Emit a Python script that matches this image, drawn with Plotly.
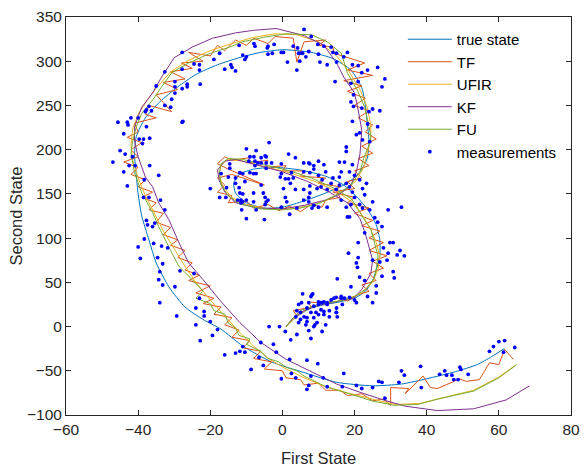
import plotly.graph_objects as go

# ---------------- data ----------------
true_x = [2, 5, 8, 12, 16, 20, 23, 25, 26, 27, 27, 26, 24, 21, 17, 12, 5, -2, -8, -12, -13.5, -13, -10, -5, 0, 6, 12, 17, 21,
          23.5, 24, 23.5, 23, 22, 19, 14, 8, 0, -6, -12, -18, -24, -29, -34, -38, -40.5, -41, -40.5, -40, -39, -37, -35,
          -31.5, -27, -22, -17, -11, -3, 6, 15, 25, 33, 40, 48, 54, 58, 61.5]
true_y = [5, 14, 21, 25, 28, 32, 40, 52, 64, 80, 98, 115, 130, 145, 160, 170, 177, 180, 178, 172, 162, 151, 140, 134, 135,
          142, 151, 160, 172, 190, 210, 230, 250, 270, 290, 303, 310, 313, 310, 304, 296, 285, 271, 254, 236, 215, 195, 170,
          150, 125, 98, 72, 45, 22, 8, -3, -22, -40, -52, -63, -67, -65, -59, -51, -43, -34, -25]

tf_x = [1, 4, 3, 8, 7, 12, 15, 18, 21, 24, 22, 26, 24, 28, 25, 29, 24, 28, 24, 27, 22, 25, 20, 24, 18, 20, 14, 16, 10, 12,
        5, 6, 0, 1, -5, -4, -10, -9, -14, -16, -18, -15, -5, -14, -18, -16, -18, -14, -15, -10, -8, -4, -1, 2, 5, 8, 11,
        12, 16, 15, 20, 18, 22, 20, 24, 21, 25, 22, 26, 23, 25, 21, 24, 20, 23, 18, 22, 17, 25, 18, 22.8, 14.3, 14, 10,
        12, 6, 4, 3, -2, -4, -8, -10, -13, -16, -18, -20, -26, -22, -28, -25, -31, -27, -33, -29, -35, -30.7, -37, -38,
        -35, -41, -40, -43, -39, -42, -40, -44, -40, -42, -38, -40, -36, -39, -35, -37, -33, -35, -31, -33, -29, -31, -27,
        -29, -25, -27, -23, -26, -20, -24, -19, -22, -17, -19, -14, -16, -12, -14, -9, -11, -6, -8, -3, -5, 0, 1, 5, 6,
        10, 12, 16, 18, 22, 25, 28, 30, 30, 35, 34, 39, 41, 43, 47, 49, 51, 54.6, 57.4, 60, 61.6, 64]
tf_y = [0, 12, 18, 22, 28, 26, 33, 29, 36, 40, 47, 52, 60, 66, 74, 80, 86, 95, 100, 108, 114, 120, 128, 134, 140, 146, 152,
        158, 162, 168, 170, 176, 176, 182, 180, 188, 185, 191, 188, 192, 184, 178, 160, 172, 168, 160, 152, 148, 140, 142,
        134, 138, 131, 136, 130, 138, 135, 143, 146, 153, 156, 164, 168, 176, 182, 190, 196, 204, 212, 220, 228, 236, 244,
        250, 258, 266, 272, 278, 284, 290, 298, 309, 316, 318, 324, 322, 299, 326, 328, 320, 326, 318, 324, 312, 318, 306,
        310, 300, 298, 292, 288, 280, 276, 268, 262, 243, 250, 240, 236, 230, 220, 214, 208, 200, 192, 186, 180, 172, 166,
        158, 152, 146, 140, 132, 128, 118, 112, 104, 98, 92, 86, 78, 72, 64, 58, 52, 46, 38, 32, 26, 22, 14, 10, 2, -4,
        -12, -16, -24, -28, -36, -40, -48, -50, -58, -60, -66, -64, -72, -72, -78, -76, -84, -82, -89, -69, -70, -76, -56,
        -69, -70, -63, -59, -62, -60, -41, -43, -26, -37]

ufir_x = [1, 4, 8, 13, 18, 22, 25, 26.5, 27, 26, 24.5, 22.5, 19.5, 15, 9, 2, -5, -11, -15, -17, -17.5, -16.5, -14, -10, -4,
          2, 8, 13, 17, 20.5, 22.5, 23.5, 24.5, 24.5, 23.5, 21.5, 18.5, 15, 10, 4, -2, -8, -14, -20, -26, -31, -34.5,
          -37.5, -40, -41.5, -42, -41.5, -40, -38, -35.5, -33, -30, -27, -24, -20, -16, -12, -8, -4, 1, 6, 12, 18, 25,
          31, 38, 45, 53, 60, 64.5]
ufir_y = [0, 12, 22, 27, 31, 38, 50, 65, 80, 95, 110, 124, 140, 153, 164, 174, 181, 187, 189, 183, 172, 158, 146, 138, 133,
          133, 137, 144, 153, 165, 180, 195, 212, 228, 248, 268, 288, 306, 322, 330, 331, 327, 320, 312, 301, 288, 272,
          256, 240, 224, 205, 188, 168, 148, 128, 108, 88, 68, 50, 30, 12, -6, -22, -36, -48, -58, -68, -75, -82, -88,
          -87, -80, -72, -57, -44]

kf_x = [1, 3, 6, 10, 15, 20, 22, 24.5, 25, 24, 23, 21.5, 18, 13, 7, 0, -7, -13, -16, -18, -17.5, -16, -13, -7, 0, 6, 12,
        16, 19, 20.5, 21.5, 22, 21, 20, 17, 15, 11.5, 6, -1.7, -8, -13, -19.4, -25, -30, -33.5, -36, -39, -41, -41, -40,
        -38, -36, -34.3, -31.5, -28.7, -26, -22, -17.4, -11.8, -6, 1, 8.7, 15, 22, 28, 34, 43, 53, 62, 68.5]
kf_y = [0, 10, 18, 24, 28, 33, 42, 60, 75, 90, 105, 122, 140, 152, 164, 175, 183, 189, 187, 177, 165, 152, 140, 134, 133,
        137, 143, 150, 160, 175, 195, 222, 245, 264, 282, 298, 318, 329, 337, 335, 332, 326, 316, 304, 282, 264, 248,
        226, 210, 192, 169, 158, 140, 121, 95, 72, 53, 30, 4.5, -18, -37, -52, -65, -75, -83, -90, -95, -93, -83, -67]

fu_x = [1, 3, 5, 9, 13, 17, 20, 23, 25.5, 26, 26.5, 25.5, 24.5, 22.5, 21, 19, 14, 8, 2, -5, -11, -15, -17, -17.5, -17, -15,
        -12, -6, 0, 5, 10, 15, 19, 21.5, 22.5, 24, 24.5, 24, 22.8, 20.8, 18, 16.3, 12.4, 8, 1, -5.3, -11, -14.6, -20,
        -26, -30.7, -33.5, -36, -39, -40.5, -41.5, -42, -41, -39, -36, -34.3, -31.5, -28.7, -25, -22, -24, -20, -19, -16,
        -15, -13, -12, -9, -10, -6, -4, -1, 1, 4, 6, 9, 12, 17, 24.8, 31, 37.7, 43, 53, 60, 65]
fu_y = [0, 10, 18, 24, 27, 30, 34, 42, 55, 65, 80, 95, 110, 122, 133, 145, 157, 168, 176, 183, 189, 190, 184, 174, 160, 148,
        139, 133, 132, 134, 139, 149, 160, 175, 190, 205, 215, 226, 248, 267, 287, 309, 322, 330, 331, 327, 322, 316, 309,
        298, 287, 271, 256, 241, 226, 210, 196, 174, 151, 129, 113, 90, 68, 53, 40, 32, 26, 18, 14, 4, -2, -10, -14, -20,
        -28, -36, -40, -46, -50, -56, -62, -68, -74, -84, -89, -88, -82, -73, -58, -43]

meas_x = [-27.8, -32.6, -27.8, -24.5, -23, -23, -19, -17.4, -16, -14.3, -14, -13, -12, -11, -10.4, -22.8, -26.4, -26.4,
          -27.8, -29.8, -29.8, -29.8, -30.7, -35, -32.6, -31, -36.3, -37, -37.7, -38, -27.6, -42, -43, -45.6, -40, -37.7,
          6, 8, -7.9, -7.6, -4, -4.2, -2.3, -2.8, -4, -0.3, 0.3, 3, 4.2, 5.3, 4.5, 5.6, 6.5, 7.3, 4.8, 1.4, 4, 9.8, 11.5,
          13.5, 10, 10.4, 12.4, 14, 15, 18, 15, 17, 19.4, 21, 23.6, 22, 26.4, 28.4, 27.6, 14.6, 19, 21, 19.7, 19, 19.7, 22,
          25, 27, 24, 19.4, 26.4, 21.4, 20.5, 23.6, -10,
          -42.8, -44, -39.7, -38.5, -36.8, -38.8, -45, -43.6, -47, -41.6, -42.5, -40.8, -44, -36.8, -34.3, -38.3, -43,
          -38.5, -37, -33.8, -32.6, -37.7, -37.4, -35.4, -36, -38.3, -40, -35.7, -33.5, -31.8, -39.4, -34.6, -33.2, -34,
          -28.4, -34.3, -33.2, -29.8, -23, -34, -29.3, -27.8, -24.5,
          -24, -21.7, -21.7, -20, -24, -22.8, -19.4, -18, -16, -13, -11.8, -10.4, -11, -8.7, -6.5, -6, -5.3, -3.7, -2.5,
          -1.7, -0.8, -0.3, 2, 2.5, 6.8, 7.9, 9.8, 11.3, 6.8, 12.4, 0.8, 2.3, 4, 7.3, 7.9, 11, 6.5, 9,
          5.6, 8.4, 4.5, 5.3, 7.3, 6.8, 8.7, 10, 10.7, 11.5, 12.4, 14.3, 16.3, 15, 13, 10.7, 9.3, 7.9, 4, 5, 6, 5, 4.5,
          6.8, 11.5, 15, 16.6, 3.7, 7.9,
          17, 20.5, 22, 25, 26.7, 27.6, 28.4, 32.3, 33, 33.8, 38.3, 38.5, 43.6, 45, 45.5, 47, 47.5, 48.7, 49.2, 49.5,
          51.5, 57.4, 58.5, 60, 61.3, 61.6, 64.4, 7.3, 3.7, 16.6,
          -10, -3.7, -7.3, -4.8, -4.5, -5.9, -7.9, -9, -9.3, -7.6, -4.5, -5.9, -6.8, -7.6, -4.5, -3, -0.3, 1.7, 3.6, 5.9,
          7.6, 8.7, 10, -14.6, -14.6, -17, -15, -13, -11.8, -11, -9, -8, -7.3, -10.4, -13, -20, -15.5, -12, -11.8, -11,
          -8, -5.9, -5.3, -0.3, -0.6, 0.8, 1.7, 3, 2.5, 0.3, 2.2, 3.6, 5.9, 7.6, 7.6, 5.9, 7.3, -17.4, -15.7, -12.4,
          -11.5, -11, -10, -11.5, -8, -4.8, -4, -4.5, 0.8, 1.2, -11.3, -7.3, -4.8, -0.3, 2, 4, -10, -5, 8.2, 10, 9.6,
          10.7,
          22.2, 17.7, 17.7, 24.2, 7.3, 11.5, 15.8, 17.2, 5.9, 7.6, 8.7, 10, 11, 12, 14, 15.8, 16.3, 18.6, 19.4, 20, 21.4,
          23.3, 17.7, 15.8, 13.5, 12.4, 14.9, 18.6, 19.4, 22.2, 22.8, 25, 20, 19, 21.4, 22.2, 17.7, 18, 18.6, 12.4, 7.3,
          8.7, 16.3, 24.2, 25.6, 26.4, 27.6, 29.3, 33, 22.8, 21, 29.8, 30.7, 28, 29.3, 31.8, 32.6, 33.8, 18.3, 21, 20.5,
          20.8, 25, 27, 29, 30.7, 31, 27.6, 26, 26, 25, 23.6, 19, 15.2, 22.8, 21.4, 16.3, 17.2, 18.6, 20, 20.5, 14.9,
          13.5, 12.4, 11, 10, 8.2, 11.5, 14.9, 13, 10, 8.7, 6.8, 9.6, 12, 8.7, 15.2]
meas_y = [310, 288, 291, 297, 296, 290, 302, 309, 291, 296, 293, 289, 318, 307, 302, 274, 274, 271, 269, 277, 271, 264, 257,
          272, 250, 248, 244, 249, 245, 243, 232, 236, 231, 231, 236, 226,
          336, 328, 320, 317, 317, 315, 319, 309, 308, 310, 310, 317, 315, 309, 309, 309, 305, 311, 300, 299, 290, 319, 317,
          316, 308, 299, 296, 310, 309, 310, 299, 305, 296, 295, 290, 287, 293, 280, 271, 277, 275, 277, 262, 254, 249, 247,
          246, 244, 243, 232, 226, 219, 217, 229, 305,
          228, 218, 212, 212, 213, 207, 199, 195, 186, 192, 182, 182, 175, 182, 171, 166, 159, 146, 146, 143, 132, 120,
          115, 117, 113, 99, 90, 94, 91, 89, 77, 78, 71, 62, 63, 53, 47, 45, 32, 27, 12, 231, 60,
          21, 17, 12, 5.6, 2, -16, -10, -3.4, -32, -30, -28, -29, -22.6, -48.5, -35, -18, -44, 0, -20, -29, 0, -59, -37,
          -53, -38, -56, -42, -58, -71, -68, -5.6, -15, -9, -4.5, -13.5, -5.6, 2, 2,
          37, 37, 25, 27, 27, 21, 23, 25, 27, 28, 27, 32, 32, 16, 18, 19, 16, 16, 18, 16, 11, 8, 4.5, 10, 13.5, 21, 25,
          11, 34,
          -53, -66.6, -70, -69, -62, -63, -81, -63, -50, -55, -45, -69, -54, -50, -55, -55, -60, -60, -46, -48.5, -54,
          -28, -22.6, -17, -29, -15.8, -23.7, -66.6, -58, -68,
          201, 208, 199, 193, 192, 191, 192, 192, 187, 187, 185, 185, 185, 182, 179, 185, 184, 195, 191, 185, 184, 182,
          187, 184, 179, 173, 169, 168, 174, 173, 174, 173, 173, 164, 162, 156, 157, 157, 151, 150, 151, 160, 151, 173,
          169, 167, 167, 168, 174, 156, 162, 155, 155, 159, 151, 143, 146, 146, 146, 143, 143, 141, 143, 140, 141, 146,
          143, 141, 146, 141, 132, 132, 138, 135, 127, 134, 122, 121, 134, 135, 156, 158,
          211, 203, 198, 209, 185, 183, 186, 186, 175, 174, 178, 171, 166, 175, 168, 169, 175, 175, 183, 171, 166, 162,
          162, 160, 162, 155, 155, 158, 152, 156, 149, 141, 146, 138, 138, 134, 135, 124, 124, 135, 141, 137, 143, 132,
          123, 118, 113, 132, 135, 106, 95, 95, 95, 89, 83, 81, 86, 80, 83, 78, 72, 67, 75, 73, 75, 62, 55, 57, 46, 38,
          27, 34, 45, 54, 52, 56, 34, 32, 33, 30, 27, 33, 30, 25, 27, 28, 36, 17, 16, 11, 13.5, 10, 5.6, 4.5, 2, 0, 11]

x_ticks = [-60, -40, -20, 0, 20, 40, 60, 80]
y_ticks = [-100, -50, 0, 50, 100, 150, 200, 250, 300, 350]

# ---------------- figure ----------------
fig = go.Figure()
fig.add_trace(go.Scatter(x=true_x, y=true_y, mode='lines', name='true state',
                         line=dict(color='rgb(0,114,189)', width=1, shape='spline', smoothing=0.6)))
fig.add_trace(go.Scatter(x=tf_x, y=tf_y, mode='lines', name='TF',
                         line=dict(color='rgb(217,83,25)', width=1)))
fig.add_trace(go.Scatter(x=ufir_x, y=ufir_y, mode='lines', name='UFIR',
                         line=dict(color='rgb(237,177,32)', width=1)))
fig.add_trace(go.Scatter(x=kf_x, y=kf_y, mode='lines', name='KF',
                         line=dict(color='rgb(126,47,142)', width=1)))
fig.add_trace(go.Scatter(x=fu_x, y=fu_y, mode='lines', name='FU',
                         line=dict(color='rgb(119,172,48)', width=1)))
fig.add_trace(go.Scatter(x=meas_x, y=meas_y, mode='markers', name='measurements',
                         marker=dict(color='rgb(0,0,255)', size=3.8, line=dict(width=0))))

axis_common = dict(ticks='inside', ticklen=5, tickcolor='#262626', tickwidth=1,
                   showline=True, linecolor='#262626', linewidth=1, mirror='allticks',
                   showgrid=False, zeroline=False, automargin=False,
                   tickfont=dict(size=15.5, color='#262626'))

fig.update_xaxes(range=[-60, 80], tickmode='array', tickvals=x_ticks,
                 title=dict(text='First State', font=dict(size=16.5, color='#262626'), standoff=15),
                 **axis_common)
fig.update_yaxes(range=[-100, 350], tickmode='array', tickvals=y_ticks,
                 title=dict(text='Second State', font=dict(size=16.5, color='#262626'), standoff=0),
                 **axis_common)

fig.update_layout(
    width=585, height=469,
    margin=dict(l=66, r=14, t=17, b=54, autoexpand=False),
    plot_bgcolor='white', paper_bgcolor='white',
    font=dict(family='Liberation Sans, Arial, Helvetica, sans-serif', color='#262626'),
    showlegend=True,
    legend=dict(x=0.667, y=0.985, xanchor='left', yanchor='top', bgcolor='rgba(0,0,0,0)',
                font=dict(size=15, color='black'), itemwidth=44, tracegroupgap=0),
)

fig.write_html('out.html', config={'displayModeBar': False},
               post_script="document.body.style.margin='0px';")
